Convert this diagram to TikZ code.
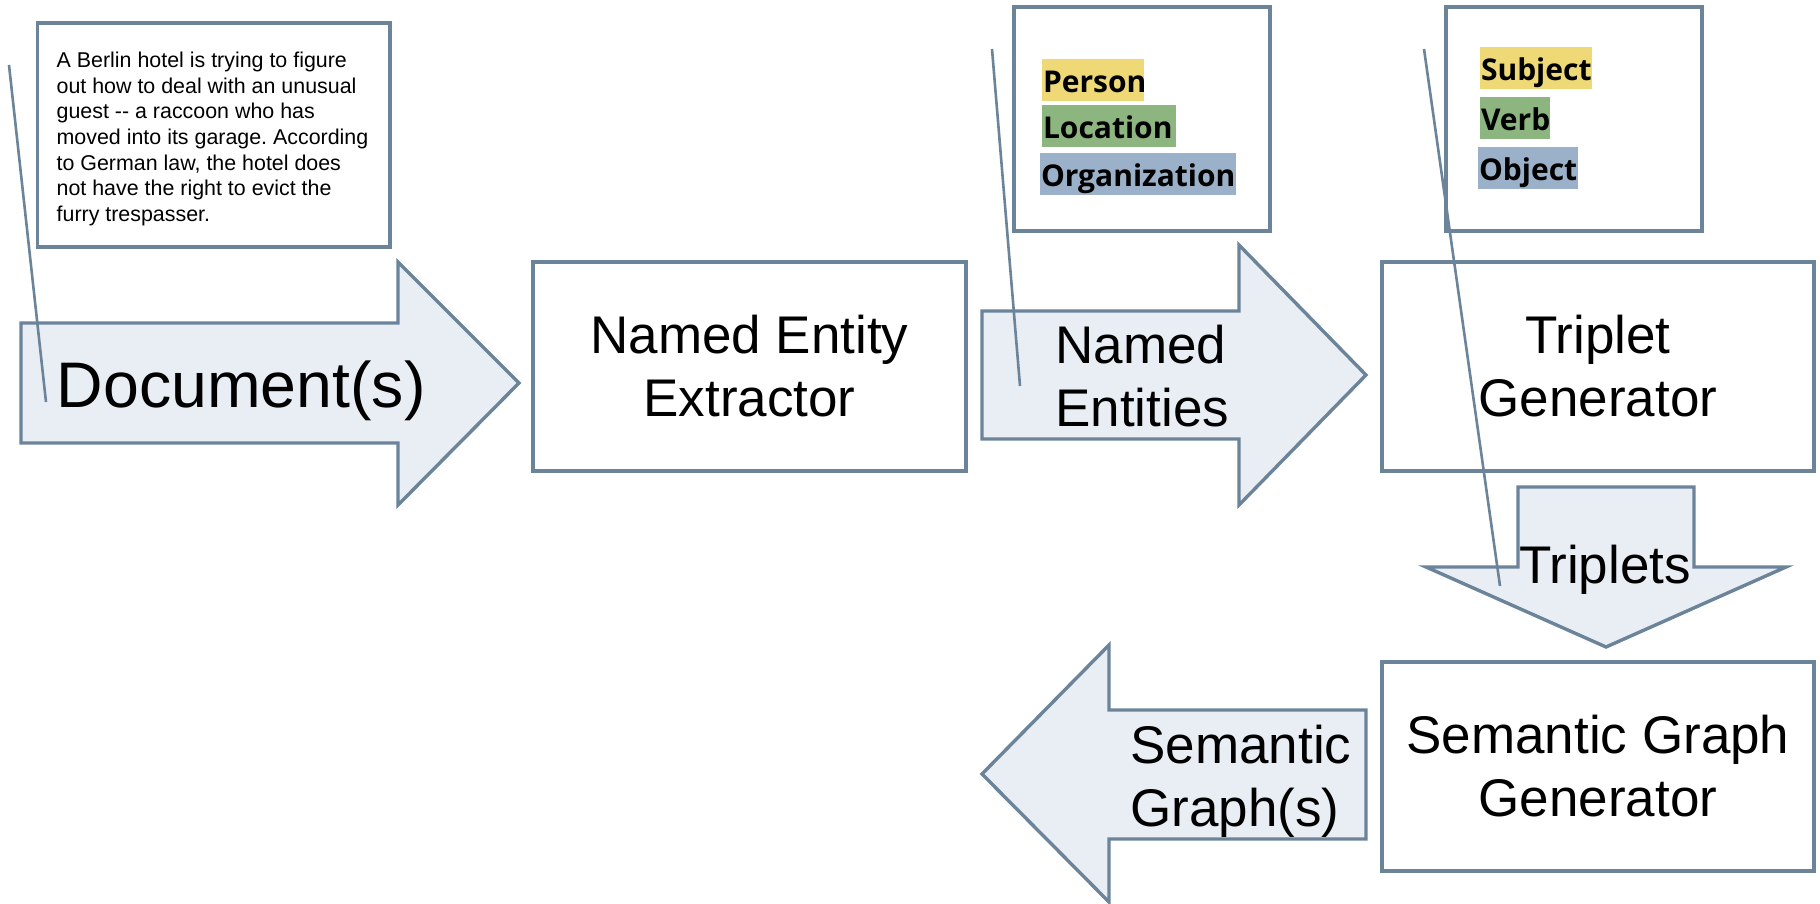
\documentclass[tikz,border=0pt]{standalone}
\usepackage{fontspec}
\setmainfont{Liberation Sans}
\newfontfamily\lblfont{Open Sans}
\definecolor{edge}{HTML}{6B8499}
\definecolor{pale}{HTML}{E9EEF5}
\definecolor{hly}{HTML}{EFD976}
\definecolor{hlg}{HTML}{8DB580}
\definecolor{hlb}{HTML}{9BB1C9}
\tikzset{
  procbox/.style={draw=edge, line width=1.7pt, rectangle, inner sep=0pt, align=center,
    font=\fontsize{26.5}{31.5}\selectfont, minimum width=216pt, minimum height=104.5pt},
  infobox/.style={draw=edge, line width=1.7pt, rectangle, inner sep=0pt, minimum width=128pt, minimum height=112pt},
  blockarrow/.style={draw=edge, fill=pale, line width=1.7pt, line join=miter},
  bigtext/.style={inner sep=0pt, font=\fontsize{26.5}{31.5}\selectfont},
  hlbox/.style={inner ysep=0pt, inner xsep=0.3pt, anchor=north west, minimum height=21pt, align=left,
    text height=15.5pt, text depth=3.5pt,
    font=\lblfont\bfseries\fontsize{15}{17}\selectfont},
  callout/.style={draw=edge, line width=1.3pt}
}
\begin{document}
\frenchspacing
\begin{tikzpicture}[x=0.5pt,y=-0.5pt]
\useasboundingbox (0,0) rectangle (1820,904);
% paragraph box
\node[draw=edge, line width=1.7pt, rectangle, inner sep=0pt,
  minimum width=176.25pt, minimum height=112pt] (para) at (213.75,135) {};
\node[inner sep=0pt, align=left, font=\fontsize{10.7}{12.85}\selectfont, anchor=center]
  (paratext) at (212.5,139) {A Berlin hotel is trying to figure\\
out how to deal with an unusual\\
guest -{}- a raccoon who has\\
moved into its garage. According\\
to German law, the hotel does\\
not have the right to evict the\\
furry trespasser.};
% Document arrow
\draw[blockarrow] (21,323) -- (398,323) -- (398,262) -- (519,383) -- (398,505) -- (398,443) -- (21,443) -- cycle;
\node[bigtext, anchor=base west, font=\fontsize{32.2}{37}\selectfont] (doc) at (56.5,407) {Document(s)};
% Named Entity Extractor
\node[procbox, minimum width=216.5pt] (nee) at (749.5,366.5) {Named Entity\\Extractor};
% Named entities arrow
\draw[blockarrow] (982,311) -- (1239,311) -- (1239,245) -- (1366,375) -- (1239,505) -- (1239,439) -- (982,439) -- cycle;
\node[bigtext, anchor=west, align=left] (ne) at (1055,376.5) {Named\\Entities};
% entities info box
\node[infobox] (ents) at (1142,119) {};
\node[hlbox, fill=hly, minimum width=51pt, text width=50.4pt] (person) at (1042,59) {Person};
\node[hlbox, fill=hlg, minimum width=67pt, text width=66.4pt] (location) at (1042,105) {Location};
\node[hlbox, fill=hlb, minimum width=98pt, text width=97.4pt] (org) at (1040,153) {Organization};
% triplet info box
\node[infobox] (trip) at (1574,119) {};
\node[hlbox, fill=hly, minimum width=56pt, text width=55.4pt] (subj) at (1480,47) {Subject};
\node[hlbox, fill=hlg, minimum width=35pt, text width=34.4pt] (verb) at (1480,97) {Verb};
\node[hlbox, fill=hlb, minimum width=50pt, text width=49.4pt] (obj) at (1478,147) {Object};
% Triplet Generator
\node[procbox] (tg) at (1598,366.5) {Triplet\\Generator};
% Triplets arrow
\draw[blockarrow] (1518,487) -- (1694,487) -- (1694,567) -- (1786,567) -- (1606,647) -- (1426,567) -- (1518,567) -- cycle;
\node[bigtext, anchor=base] (triplets) at (1605,583) {Triplets};
% Semantic Graph Generator
\node[procbox] (sgg) at (1598,766.5) {Semantic Graph\\Generator};
% Semantic graph arrow
\draw[blockarrow] (1366,710) -- (1109,710) -- (1109,645) -- (982,774) -- (1109,902) -- (1109,839) -- (1366,839) -- cycle;
\node[bigtext, anchor=west, align=left] (sg) at (1130,781.5) {Semantic\\Graph(s)};
% callout lines
\coordinate (c1a) at (9,65);
\coordinate (c1b) at (46,402);
\coordinate (c2a) at (992,49);
\coordinate (c2b) at (1020,386);
\coordinate (c3a) at (1424,49);
\coordinate (c3b) at (1500,586);
\draw[callout] (c1a) -- (c1b);
\draw[callout] (c2a) -- (c2b);
\draw[callout] (c3a) -- (c3b);
\end{tikzpicture}
\end{document}
